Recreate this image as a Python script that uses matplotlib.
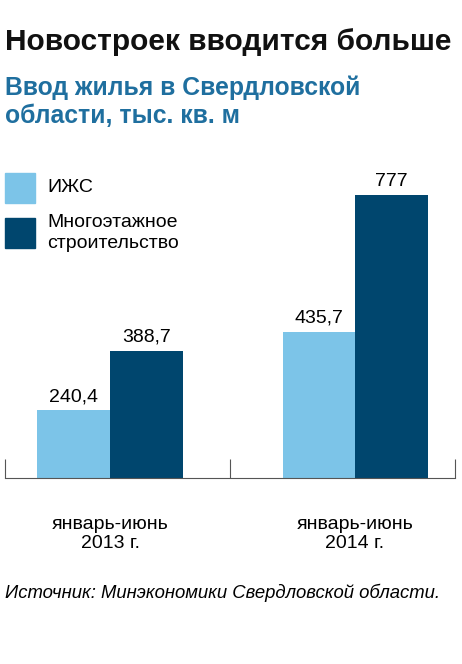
import matplotlib
matplotlib.use("Agg")
import matplotlib.pyplot as plt

periods = ["январь-июнь\n2013 г.", "январь-июнь\n2014 г."]
series_names = ["ИЖС", "Многоэтажное\nстроительство"]
izhs = [240.4, 435.7]
multi = [388.7, 777]
labels_izhs = ["240,4", "435,7"]
labels_multi = ["388,7", "777"]
colors = ["#7cc4e8", "#00466e"]

W, H = 462, 664
fig = plt.figure(figsize=(W/100, H/100), dpi=100)
plt.rcParams['font.family'] = ['Liberation Sans', 'DejaVu Sans']

def fx(x): return x / W
def fy(y): return 1 - y / H

fig.text(fx(5), fy(42), "Новостроек вводится больше", fontsize=21.5, weight='bold', va='center', color='#111')
fig.text(fx(5), fy(102), "Ввод жилья в Свердловской\nобласти, тыс. кв. м", fontsize=17.8, weight='bold',
         va='center', color='#1f6f9f', linespacing=1.2)

ax = fig.add_axes([fx(5), fy(478), fx(450), (478-150)/H])
x = [0, 1]
w = 0.296
ax.bar([i - w/2 for i in x], izhs, width=w, color=colors[0])
ax.bar([i + w/2 for i in x], multi, width=w, color=colors[1])
for i in x:
    ax.text(i - w/2, izhs[i] + 12, labels_izhs[i], ha='center', va='bottom', fontsize=14)
    ax.text(i + w/2, multi[i] + 12, labels_multi[i], ha='center', va='bottom', fontsize=14)
ax.set_xlim(-0.4286, 1.408)
ax.set_ylim(70, 890)
for s in ['top', 'right', 'left']:
    ax.spines[s].set_visible(False)
ax.spines['bottom'].set_color('#555')
ax.set_yticks([])
ax.set_xticks([-0.4286, 0.49, 1.408])
ax.set_xticklabels([])
ax.tick_params(axis='x', direction='in', length=14, color='#555')
for i in x:
    ax.text(i, -0.115, periods[i], transform=ax.get_xaxis_transform(), ha='center', va='top',
            fontsize=14, linespacing=1.2)

# legend
fig.patches.append(plt.Rectangle((fx(5), fy(203)), fx(30), 30/H, color=colors[0], transform=fig.transFigure))
fig.patches.append(plt.Rectangle((fx(5), fy(248)), fx(30), 30/H, color=colors[1], transform=fig.transFigure))
fig.text(fx(47), fy(188), series_names[0], fontsize=14, va='center')
fig.text(fx(47), fy(233), series_names[1], fontsize=14, va='center', linespacing=1.3)

fig.text(fx(5), fy(593), "Источник: Минэкономики Свердловской области.", fontsize=13.3, style='italic', va='center')
fig.savefig("out.png", dpi=100)
